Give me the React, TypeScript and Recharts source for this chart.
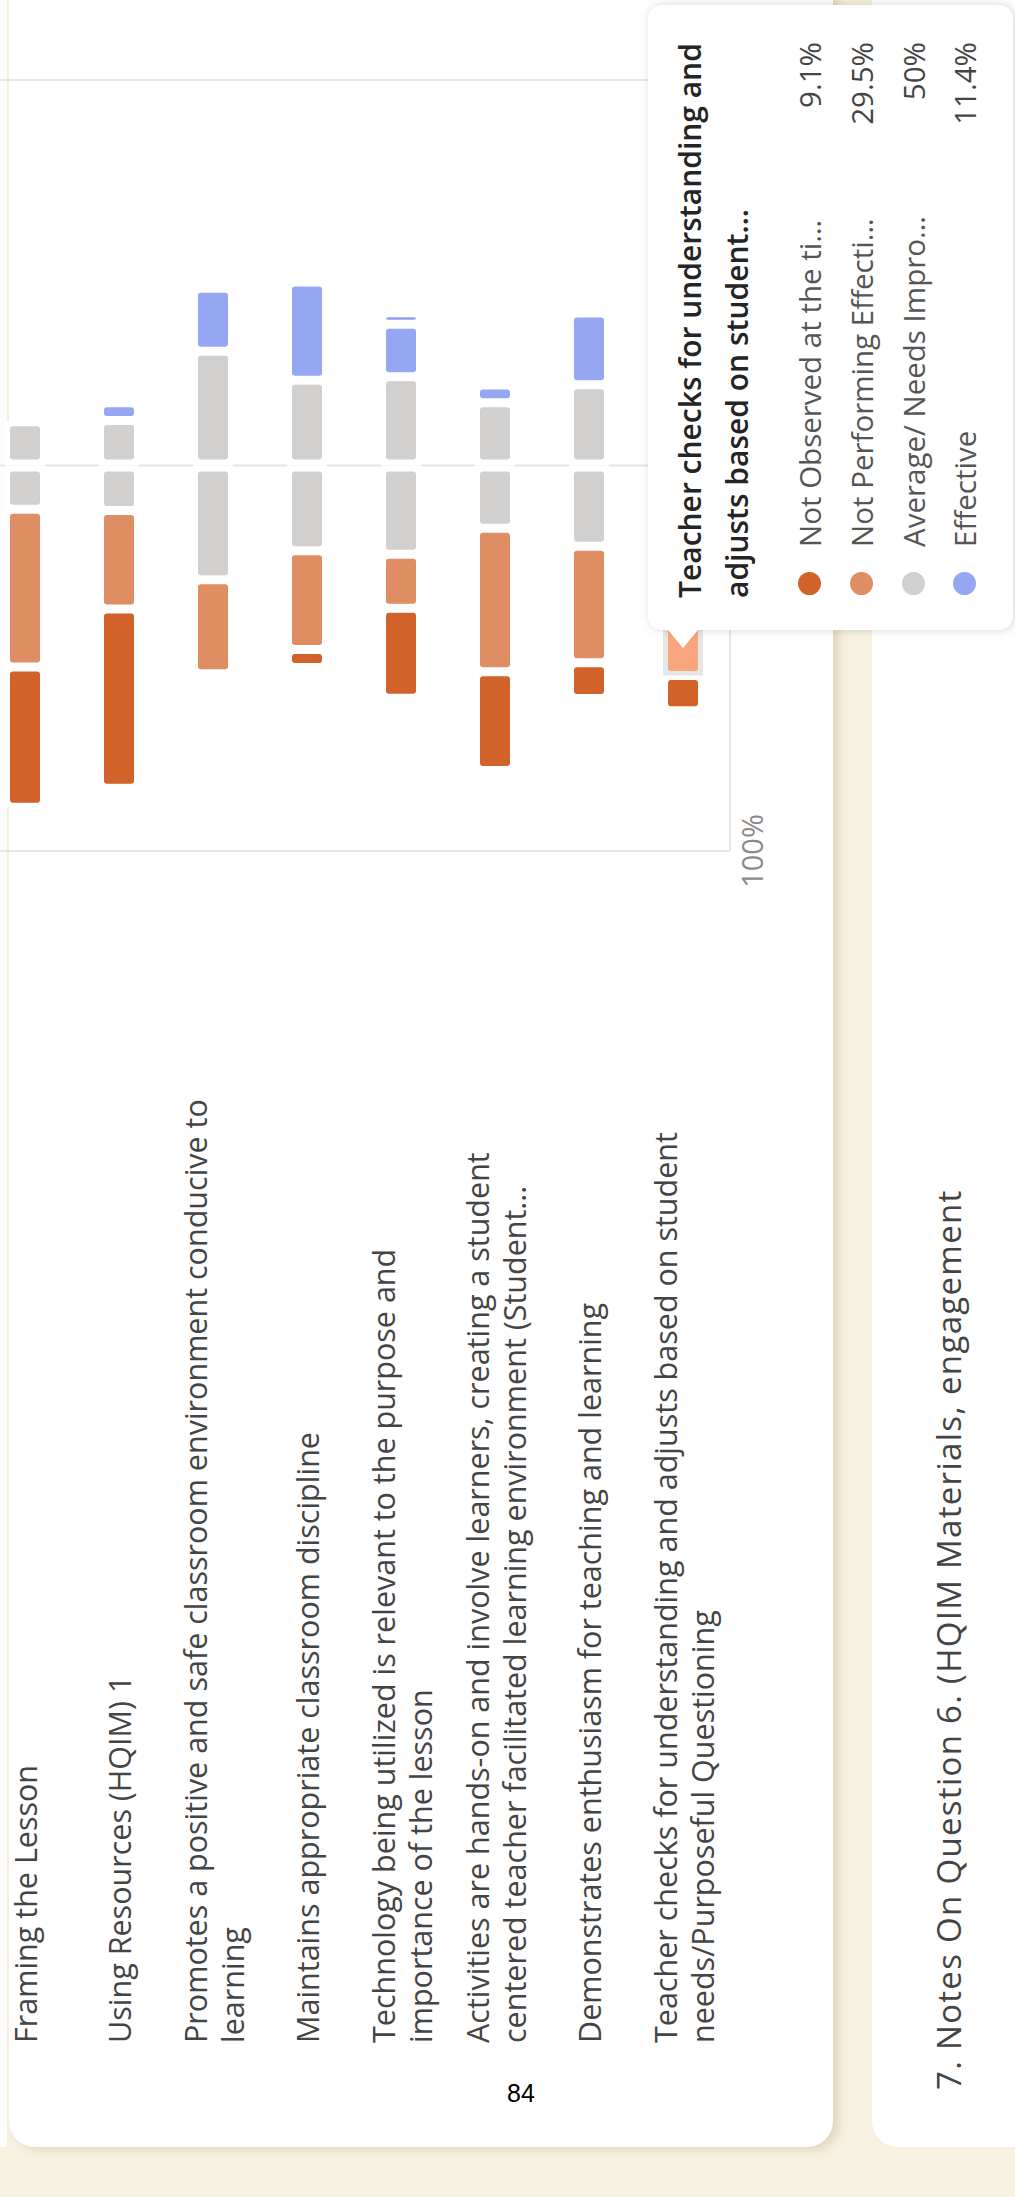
import React from "react";
import { BarChart, Bar, XAxis, YAxis, CartesianGrid, Tooltip } from "recharts";

// rotated screenshot of a diverging likert chart (MS Forms style)
const FONT = "'Open Sans', 'Noto Sans', sans-serif";

const tickLines: string[][] = [
  ["Framing the Lesson"],
  ["Using Resources (HQIM) 1"],
  ["Promotes a positive and safe classroom environment conducive to", "learning"],
  ["Maintains appropriate classroom discipline"],
  ["Technology being utilized is relevant to the purpose and", "importance of the lesson"],
  ["Activities are hands-on and involve learners, creating a student", "centered teacher facilitated learning environment (Student..."],
  ["Demonstrates enthusiasm for teaching and learning"],
  ["Teacher checks for understanding and adjusts based on student", "needs/Purposeful Questioning"],
];
const categories = tickLines.map((l) => l.join(" "));

// percent of responses
const notObserved = [36.4, 46.5, 0, 4.7, 23.3, 25.6, 9.3, 9.1];
const notPerforming = [40.9, 25.6, 24.4, 25.6, 14.0, 37.2, 30.2, 29.5];
const average = [22.7, 23.3, 59.3, 44.2, 46.1, 32.6, 41.9, 50];
const effective = [0, 4.6, 16.3, 25.5, 13.6, 4.6, 18.6, 11.4];
const highlyEffective = [0, 0, 0, 0, 3.0, 0, 0, 0];

const seriesNames = [
  "Not Observed at the time of visit",
  "Not Performing Effectively",
  "Average/ Needs Improvement",
  "Effective",
];
const seriesColors = ["#d0622a", "#df8d63", "#d1d0ce", "#95a6f2"];
const heColor = "#8fa0f0";
const valueTicks = [-100, 0, 100];

const hoverIndex = 7;
const tipTitle = "Teacher checks for understanding and adjusts based on student needs/Purposeful Questioning";
const tipValues = ["9.1%", "29.5%", "50%", "11.4%"];

const data = categories.map((name, i) => ({
  name,
  avgNeg: -average[i] / 2,
  notPerforming: -notPerforming[i],
  notObserved: -notObserved[i],
  avgPos: average[i] / 2,
  effective: effective[i],
  highlyEffective: highlyEffective[i],
}));

const INSET = 4.5;

function makeShape(color: string, zeroSide: "none" | "left" | "right", hover = false) {
  return (props: any) => {
    const { x, y, width, height, index } = props;
    const x0 = Math.min(x, x + width);
    const w = Math.abs(width);
    if (!w || w < 0.5) return <g />;
    const il = zeroSide === "left" ? 6 : INSET;
    const ir = zeroSide === "right" ? 6 : INSET;
    const inner = Math.max(w - il - ir, 0);
    const hot = hover && index === hoverIndex;
    return (
      <g>
        <rect x={x0} y={y - 5} width={w} height={height + 10} fill="#ffffff" />
        {hot && (
          <rect x={x0 + il - 5} y={y - 5} width={inner + 10} height={height + 10} fill="#e6e6e6" rx={2} />
        )}
        {inner > 0 && (
          <rect x={x0 + il} y={y} width={inner} height={height} rx={3} fill={hot ? "#f8a67e" : color} />
        )}
      </g>
    );
  };
}

const LABEL_X = 154;
const LINE_H = 37;

function CategoryTick(props: any) {
  const { y, payload } = props;
  const idx = categories.indexOf(payload.value);
  const lines = tickLines[idx] || [payload.value];
  const off = ((lines.length - 1) * LINE_H) / 2;
  return (
    <g>
      {lines.map((l, k) => (
        <text
          key={k}
          x={LABEL_X}
          y={y - off + k * LINE_H}
          dominantBaseline="central"
          fill="#444444"
          fontSize={30.5}
          fontFamily={FONT}
        >
          {l}
        </text>
      ))}
    </g>
  );
}

function TipCard() {
  return (
    <div
      style={{
        position: "relative",
        width: 625,
        height: 365,
        background: "#fff",
        borderRadius: 14,
        boxShadow: "0 2px 10px rgba(0,0,0,0.16)",
        fontFamily: FONT,
        boxSizing: "border-box",
      }}
    >
      <div
        style={{
          position: "absolute",
          left: -18,
          top: 20,
          width: 0,
          height: 0,
          borderTop: "15px solid transparent",
          borderBottom: "15px solid transparent",
          borderRight: "18px solid #fff",
        }}
      />
      <div
        style={{
          position: "absolute",
          left: 32,
          top: 18,
          width: 568,
          fontSize: 30,
          lineHeight: "47px",
          fontWeight: 600,
          color: "#242424",
          display: "-webkit-box",
          WebkitLineClamp: 2,
          WebkitBoxOrient: "vertical" as any,
          overflow: "hidden",
        }}
      >
        {tipTitle}
      </div>
      {seriesNames.map((n, i) => (
        <div
          key={n}
          style={{
            position: "absolute",
            left: 35,
            right: 37,
            top: 136 + i * 51.7,
            height: 51.7,
            display: "flex",
            alignItems: "center",
            fontSize: 29.5,
            color: "#555",
          }}
        >
          <span
            style={{ width: 23, height: 23, borderRadius: "50%", background: seriesColors[i], flex: "none" }}
          />
          <span
            style={{
              marginLeft: 25,
              maxWidth: 340,
              whiteSpace: "nowrap",
              overflow: "hidden",
              textOverflow: "ellipsis",
            }}
          >
            {n}
          </span>
          <span style={{ marginLeft: "auto", color: "#444" }}>{tipValues[i]}</span>
        </div>
      ))}
    </div>
  );
}

export default function App() {
  return (
    <div
      style={{
        position: "absolute",
        left: 0,
        top: 0,
        width: 1015,
        height: 2197,
        overflow: "hidden",
        background: "#f7f1df",
      }}
    >
      <style>{"body{margin:0;overflow:hidden}"}</style>
      <div
        style={{
          position: "absolute",
          left: 0,
          top: 0,
          width: 2197,
          height: 1015,
          transformOrigin: "0 0",
          transform: "translateY(2197px) rotate(-90deg)",
        }}
      >
        <div style={{ position: "absolute", left: 50, top: 0, width: 2200, height: 7, background: "#fdfdfd" }} />
        <div
          style={{
            position: "absolute",
            left: 50,
            top: 9,
            width: 2200,
            height: 824,
            background: "#fff",
            borderRadius: 26,
            boxShadow: "-3px 6px 10px rgba(120,100,50,0.18)",
          }}
        />
        <div
          style={{
            position: "absolute",
            left: 50,
            top: 872,
            width: 2200,
            height: 300,
            background: "#fff",
            borderRadius: 26,
          }}
        />
        <div
          style={{
            position: "absolute",
            left: 107,
            top: 932,
            fontFamily: FONT,
            fontSize: 33,
            letterSpacing: 1.3,
            lineHeight: "33px",
            color: "#444",
            whiteSpace: "nowrap",
          }}
        >
          7. Notes On Question 6. (HQIM Materials, engagement
        </div>
        <div style={{ position: "absolute", left: 0, top: -22 }}>
          <BarChart
            width={2197}
            height={812}
            data={data}
            layout="vertical"
            stackOffset="sign"
            barSize={30}
            margin={{ top: 0, right: 80, left: 0, bottom: 0 }}
          >
            <CartesianGrid horizontal={false} stroke="#e6e6e6" strokeWidth={2} />
            <XAxis
              type="number"
              domain={[-100, 100]}
              ticks={valueTicks}
              interval={0}
              tickFormatter={(v) => `${Math.abs(Number(v))}%`}
              axisLine={{ stroke: "#e6e6e6", strokeWidth: 2 }}
              tickLine={false}
              tickSize={0}
              tickMargin={12}
              height={60}
              tick={{ fill: "#8a8a8a", fontSize: 29, fontFamily: FONT }}
            />
            <YAxis
              type="category"
              dataKey="name"
              width={1346}
              axisLine={false}
              tickLine={false}
              interval={0}
              tick={<CategoryTick />}
            />
            <Tooltip
              active
              defaultIndex={hoverIndex}
              cursor={false}
              isAnimationActive={false}
              position={{ x: 1567, y: 670 }}
              allowEscapeViewBox={{ x: true, y: true }}
              wrapperStyle={{ zIndex: 5, outline: "none" }}
              content={<TipCard />}
            />
            <Bar dataKey="avgNeg" stackId="a" name={seriesNames[2]} isAnimationActive={false} shape={makeShape(seriesColors[2], "right")} />
            <Bar dataKey="notPerforming" stackId="a" name={seriesNames[1]} isAnimationActive={false} shape={makeShape(seriesColors[1], "none", true)} />
            <Bar dataKey="notObserved" stackId="a" name={seriesNames[0]} isAnimationActive={false} shape={makeShape(seriesColors[0], "none")} />
            <Bar dataKey="avgPos" stackId="a" name={seriesNames[2] + " "} isAnimationActive={false} shape={makeShape(seriesColors[2], "left")} />
            <Bar dataKey="effective" stackId="a" name={seriesNames[3]} isAnimationActive={false} shape={makeShape(seriesColors[3], "none")} />
            <Bar dataKey="highlyEffective" stackId="a" name="Highly Effective" isAnimationActive={false} shape={makeShape(heColor, "none")} />
          </BarChart>
        </div>
      </div>
      <div
        style={{
          position: "absolute",
          left: 507,
          top: 2081,
          fontFamily: "'Liberation Sans', Arial, sans-serif",
          fontSize: 25,
          lineHeight: "25px",
          color: "#000",
        }}
      >
        84
      </div>
    </div>
  );
}
